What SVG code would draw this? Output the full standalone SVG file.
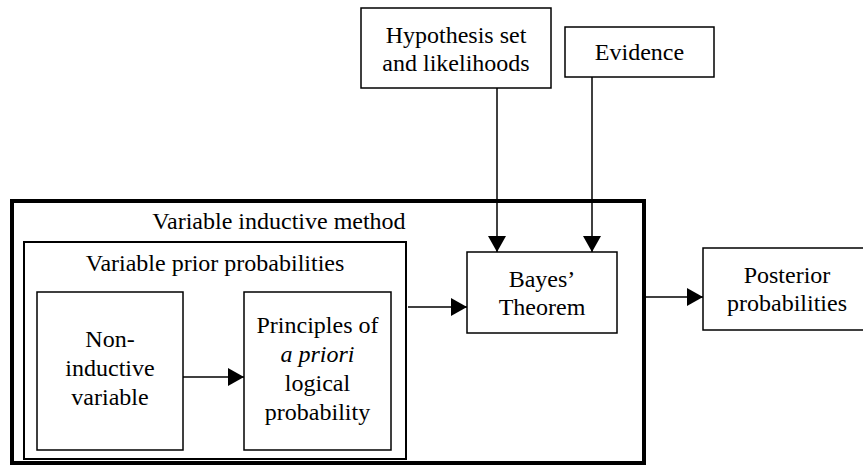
<svg xmlns="http://www.w3.org/2000/svg" width="863" height="467" viewBox="0 0 863 467">
<defs>
<style>
.box{fill:#fff;stroke:#000;stroke-width:1.5}
.t{font-size:24px;fill:#000;text-anchor:middle}
.ln{stroke:#000;stroke-width:1.5;fill:none}
</style>
<marker id="ah" viewBox="0 0 16 18" refX="16" refY="9" markerWidth="16" markerHeight="18" markerUnits="userSpaceOnUse" orient="auto">
<path d="M0,0 L16,9 L0,18 Z" fill="#000"/>
</marker>
</defs>
<rect width="863" height="467" fill="#fff"/>
<g font-family="Liberation Serif, DejaVu Serif, serif">
<g id="outer">
<rect x="12" y="201" width="632" height="262" fill="none" stroke="#000" stroke-width="4"/>
<text class="t" x="279" y="229">Variable inductive method</text>
</g>
<g id="prior">
<rect x="24" y="242" width="382" height="217" fill="none" stroke="#000" stroke-width="2"/>
<text class="t" x="215" y="271">Variable prior probabilities</text>
</g>
<g id="noninductive">
<rect class="box" x="37" y="292" width="146" height="158"/>
<text class="t" x="110" y="347">Non-</text>
<text class="t" x="110" y="376">inductive</text>
<text class="t" x="110" y="405">variable</text>
</g>
<g id="principles">
<rect class="box" x="244" y="292" width="147" height="158"/>
<text class="t" x="317.5" y="333">Principles of</text>
<text class="t" x="317.5" y="362" font-style="italic">a priori</text>
<text class="t" x="317.5" y="391">logical</text>
<text class="t" x="317.5" y="420">probability</text>
</g>
<g id="bayes">
<rect class="box" x="467" y="252" width="150" height="81"/>
<text class="t" x="542" y="287">Bayes’</text>
<text class="t" x="542" y="315">Theorem</text>
</g>
<g id="hypothesis">
<rect class="box" x="361" y="8" width="190" height="80"/>
<text class="t" x="456" y="43">Hypothesis set</text>
<text class="t" x="456" y="71">and likelihoods</text>
</g>
<g id="evidence">
<rect class="box" x="565" y="27" width="149" height="50"/>
<text class="t" x="639.5" y="60">Evidence</text>
</g>
<g id="posterior">
<rect class="box" x="703" y="248" width="170" height="82"/>
<text class="t" x="787" y="283">Posterior</text>
<text class="t" x="787" y="311">probabilities</text>
</g>
</g>
<g id="connectors">
<line class="ln" x1="183" y1="377" x2="244" y2="377" marker-end="url(#ah)"/>
<line class="ln" x1="408" y1="307" x2="467" y2="307" marker-end="url(#ah)"/>
<line class="ln" x1="497" y1="88" x2="497" y2="252" marker-end="url(#ah)"/>
<line class="ln" x1="592" y1="77" x2="592" y2="252" marker-end="url(#ah)"/>
<line class="ln" x1="646" y1="297" x2="703" y2="297" marker-end="url(#ah)"/>
</g>
</svg>
